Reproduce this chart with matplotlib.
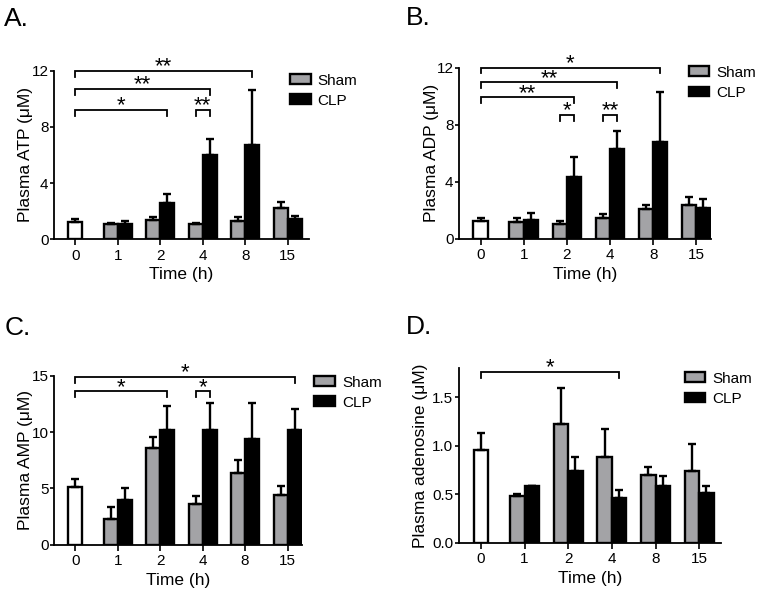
import matplotlib
matplotlib.use("Agg")
import matplotlib.pyplot as plt
from matplotlib.patches import Patch
import numpy as np

plt.rcParams['font.family'] = ['Liberation Sans', 'DejaVu Sans']

times = ['0', '1', '2', '4', '8', '15']
gray = '#a3a3a6'

# Plasma ATP
atp_base, atp_base_err = 1.22, 0.23
atp_sham = [1.07, 1.35, 1.08, 1.30, 2.24]
atp_sham_err = [0.08, 0.21, 0.04, 0.26, 0.41]
atp_clp = [1.05, 2.60, 6.00, 6.70, 1.42]
atp_clp_err = [0.22, 0.60, 1.15, 3.95, 0.23]
atp_brackets = [('0', '8C', 12.0, '**'), ('0', '4C', 10.7, '**'),
                ('0', '2C', 9.2, '*'), ('4S', '4C', 9.2, '**')]

# Plasma ADP
adp_base, adp_base_err = 1.26, 0.18
adp_sham = [1.14, 1.06, 1.42, 2.08, 2.39]
adp_sham_err = [0.28, 0.19, 0.31, 0.29, 0.51]
adp_clp = [1.30, 4.35, 6.27, 6.75, 2.14]
adp_clp_err = [0.49, 1.35, 1.25, 3.50, 0.62]
adp_brackets = [('0', '8C', 12.0, '*'), ('0', '4C', 10.95, '**'),
                ('0', '2C', 9.9, '**'), ('2S', '2C', 8.65, '*'),
                ('4S', '4C', 8.65, '**')]

# Plasma AMP
amp_base, amp_base_err = 5.12, 0.71
amp_sham = [2.31, 8.55, 3.58, 6.40, 4.43]
amp_sham_err = [1.03, 1.04, 0.74, 1.10, 0.75]
amp_clp = [3.93, 10.20, 10.17, 9.41, 10.19]
amp_clp_err = [1.07, 2.14, 2.37, 3.19, 1.89]
amp_brackets = [('0', '15C', 14.9, '*'), ('0', '2C', 13.6, '*'),
                ('4S', '4C', 13.6, '*')]

# Plasma adenosine
ado_base, ado_base_err = 0.96, 0.17
ado_sham = [0.48, 1.22, 0.88, 0.70, 0.745]
ado_sham_err = [0.02, 0.38, 0.29, 0.08, 0.275]
ado_clp = [0.585, 0.74, 0.465, 0.586, 0.514]
ado_clp_err = [0.005, 0.14, 0.075, 0.10, 0.076]
ado_brackets = [('0', '4C', 1.76, '*')]

W = 0.33
OFF = W / 2


def bar_x(key):
    if key == '0':
        return 0.0
    i = times.index(key[:-1])
    return i - OFF if key[-1] == 'S' else i + OFF


def panel(rect, letter, letter_pos, ylabel, base, base_err, sham, sham_err,
          clp, clp_err, brackets, ylim, yticks, ytl, xmax, leg_pos, ylab_x):
    ax = fig.add_axes(rect)
    x = np.arange(1, len(times))
    ek = dict(ecolor='black', elinewidth=1.7, capsize=3.2, capthick=1.7)
    ax.bar([0], [base], W, color='white', edgecolor='black', linewidth=1.7,
           yerr=[[0], [base_err]], error_kw=ek, zorder=3)
    ax.bar(x - OFF, sham, W, color=gray, edgecolor='black', linewidth=1.7,
           yerr=[np.zeros(len(sham)), sham_err], error_kw=ek, zorder=3)
    ax.bar(x + OFF, clp, W, color='black', edgecolor='black', linewidth=1.7,
           yerr=[np.zeros(len(clp)), clp_err], error_kw=ek, zorder=3)

    drop = 0.034 * ylim
    for a, b, y, s in brackets:
        x1, x2 = bar_x(a), bar_x(b)
        ax.plot([x1, x1, x2, x2], [y - drop, y, y, y - drop], color='black',
                lw=1.3, clip_on=False, solid_joinstyle='miter')
        ax.annotate(s, ((x1 + x2) / 2, y), xytext=(0, -1.0),
                    textcoords='offset points', ha='center', va='baseline',
                    fontsize=16, clip_on=False)

    ax.set_xlim(-0.5, xmax)
    ax.set_ylim(0, ylim)
    ax.set_xticks(range(len(times)))
    ax.set_xticklabels(times, fontsize=11)
    ax.set_yticks(yticks)
    ax.set_yticklabels(ytl, fontsize=11)
    ax.tick_params(axis='y', length=3, width=1.2, pad=1)
    ax.tick_params(axis='x', length=4, width=1.2, pad=3)
    for side in ['top', 'right']:
        ax.spines[side].set_visible(False)
    for side in ['left', 'bottom']:
        ax.spines[side].set_linewidth(1.3)
    ax.set_xlabel('Time (h)', fontsize=12.5)
    ax.xaxis.set_label_coords(0.5, -0.165)
    ax.set_ylabel(ylabel, fontsize=12.5)
    ax.yaxis.set_label_coords(ylab_x, 0.5)

    handles = [Patch(facecolor=gray, edgecolor='black', linewidth=1.7),
               Patch(facecolor='black', edgecolor='black', linewidth=1.7)]
    ax.legend(handles, ['Sham', 'CLP'], loc='upper left',
              bbox_to_anchor=leg_pos, frameon=False, fontsize=11,
              handlelength=1.35, handleheight=0.62, handletextpad=0.45,
              labelspacing=0.4, borderpad=0, borderaxespad=0)
    fig.text(letter_pos[0], letter_pos[1], letter, fontsize=19,
             va='baseline', ha='left')
    return ax


fig = plt.figure(figsize=(7.62, 5.96), dpi=100)
W_PX, H_PX = 762, 596


def rect(l, r, t, b):
    return [l / W_PX, 1 - b / H_PX, (r - l) / W_PX, (b - t) / H_PX]


panel(rect(54, 309, 71, 239), 'A.', (4 / W_PX, 1 - 26 / H_PX),
      'Plasma ATP (\u03bcM)', atp_base, atp_base_err, atp_sham, atp_sham_err,
      atp_clp, atp_clp_err, atp_brackets, 12, [0, 4, 8, 12],
      ['0', '4', '8', '12'], 5.5, (0.925, 0.985), -0.082)
panel(rect(459, 711, 67.5, 238.7), 'B.', (406 / W_PX, 1 - 25 / H_PX),
      'Plasma ADP (\u03bcM)', adp_base, adp_base_err, adp_sham, adp_sham_err,
      adp_clp, adp_clp_err, adp_brackets, 12, [0, 4, 8, 12],
      ['0', '4', '8', '12'], 5.34, (0.911, 1.01), -0.081)
panel(rect(54, 302, 375.7, 544.7), 'C.', (5 / W_PX, 1 - 335 / H_PX),
      'Plasma AMP (\u03bcM)', amp_base, amp_base_err, amp_sham, amp_sham_err,
      amp_clp, amp_clp_err, amp_brackets, 15, [0, 5, 10, 15],
      ['0', '5', '10', '15'], 5.34, (1.05, 1.0), -0.085)
panel(rect(459, 721, 368.3, 542.7), 'D.', (406 / W_PX, 1 - 334 / H_PX),
      'Plasma adenosine (\u03bcM)', ado_base, ado_base_err, ado_sham,
      ado_sham_err, ado_clp, ado_clp_err, ado_brackets, 1.8,
      [0, 0.5, 1.0, 1.5], ['0.0', '0.5', '1.0', '1.5'], 5.5,
      (0.862, 0.98), -0.12)

fig.savefig('out.png', dpi=100)
